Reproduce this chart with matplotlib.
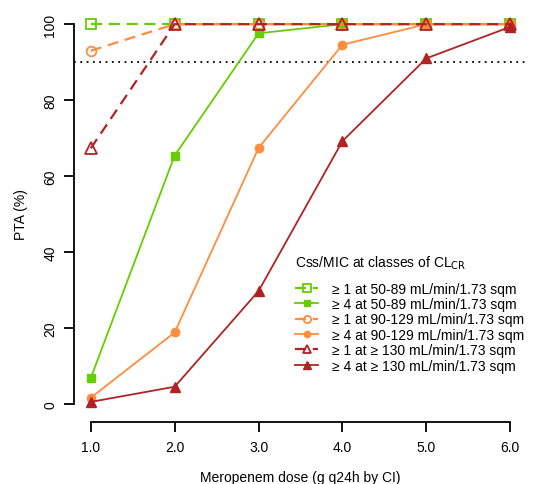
import matplotlib.pyplot as plt

plt.rcParams['font.family'] = ['Liberation Sans', 'DejaVu Sans']

# doses (g q24h by CI)
dose = [1.0, 2.0, 3.0, 4.0, 5.0, 6.0]
xtick_labels = ["1.0", "2.0", "3.0", "4.0", "5.0", "6.0"]

# PTA (%) per CLcr class and Css/MIC target
pta_1_50_89 = [100, 100, 100, 100, 100, 100]
pta_4_50_89 = [6.8, 65.4, 97.6, 100, 100, 100]
pta_1_90_129 = [93.0, 100, 100, 100, 100, 100]
pta_4_90_129 = [1.6, 18.8, 67.4, 94.6, 100, 100]
pta_1_130 = [67.3, 100, 100, 100, 100, 100]
pta_4_130 = [0.5, 4.5, 29.7, 69.2, 91.0, 99.3]

green = "#66CD00"
orange = "#FF8C3F"
red = "#B22222"

fig = plt.figure(figsize=(5.33, 4.85), dpi=100)
ax = fig.add_axes([74 / 533, 65 / 485, 453 / 533, 410 / 485])

ax.axhline(90, color="black", linestyle=(0, (1, 2.5)), linewidth=1.3, zorder=1)

ax.plot(dose, pta_1_50_89, color=green, linestyle=(0, (5, 3)), linewidth=1.6,
        marker="s", markersize=7, markerfacecolor="none", markeredgewidth=1.3,
        label="≥ 1 at 50-89 mL/min/1.73 sqm")
ax.plot(dose, pta_4_50_89, color=green, linestyle="-", linewidth=1.3,
        marker="s", markersize=6,
        label="≥ 4 at 50-89 mL/min/1.73 sqm")
ax.plot(dose, pta_1_90_129, color=orange, linestyle=(0, (5, 3)), linewidth=1.6,
        marker="o", markersize=7, markerfacecolor="none", markeredgewidth=1.3,
        label="≥ 1 at 90-129 mL/min/1.73 sqm")
ax.plot(dose, pta_4_90_129, color=orange, linestyle="-", linewidth=1.3,
        marker="o", markersize=6,
        label="≥ 4 at 90-129 mL/min/1.73 sqm")
ax.plot(dose, pta_1_130, color=red, linestyle=(0, (5, 3)), linewidth=1.6,
        marker="^", markersize=8, markerfacecolor="none", markeredgewidth=1.3,
        label="≥ 1 at ≥ 130 mL/min/1.73 sqm")
ax.plot(dose, pta_4_130, color=red, linestyle="-", linewidth=1.3,
        marker="^", markersize=7,
        label="≥ 4 at ≥ 130 mL/min/1.73 sqm")

ax.set_xlim(0.8, 6.2)
ax.set_ylim(-4, 104)
ax.set_xticks(dose)
ax.set_xticklabels(xtick_labels)
ax.set_yticks([0, 20, 40, 60, 80, 100])
for lab in ax.get_yticklabels():
    lab.set_rotation(90)
    lab.set_va("center")

for s in ["top", "right"]:
    ax.spines[s].set_visible(False)
ax.spines["left"].set_bounds(0, 100)
ax.spines["bottom"].set_bounds(1, 6)
ax.spines["bottom"].set_position(("outward", 2))
ax.spines["left"].set_linewidth(1.3)
ax.spines["bottom"].set_linewidth(1.3)
ax.tick_params(direction="out", length=7, width=1.3, labelsize=10)
ax.tick_params(axis="x", pad=6)
ax.tick_params(axis="y", pad=5)

ax.set_xlabel("Meropenem dose (g q24h by CI)", fontsize=10, labelpad=12)
ax.set_ylabel("PTA (%)", fontsize=10, labelpad=11)

leg = ax.legend(loc="upper left", bbox_to_anchor=(0.46, 0.435), frameon=False,
                fontsize=10, title="Css/MIC at classes of CL$_{\\mathrm{CR}}$",
                title_fontsize=10, handlelength=1.7, handletextpad=1.0,
                labelspacing=0.1, markerscale=0.75)
leg._legend_box.align = "left"
leg._legend_box.sep = 8

fig.savefig("out.png", dpi=100)
